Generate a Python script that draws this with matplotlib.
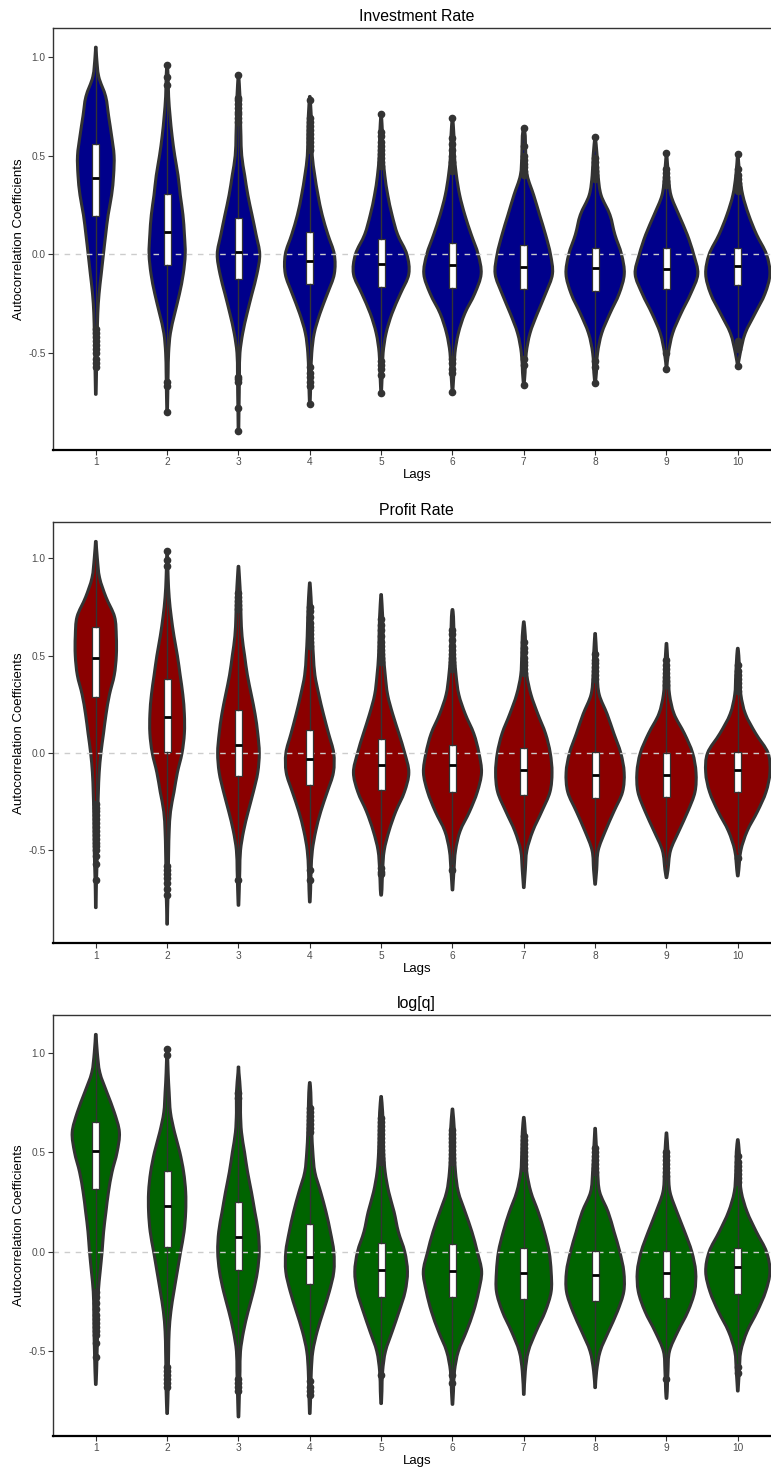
import numpy as np
import matplotlib
matplotlib.use("Agg")
import matplotlib.pyplot as plt
from matplotlib.path import Path
from matplotlib.patches import PathPatch

plt.rcParams['font.family'] = ['Liberation Sans', 'DejaVu Sans']
plt.rcParams['axes.unicode_minus'] = False

lags = [1, 2, 3, 4, 5, 6, 7, 8, 9, 10]
titles = ['Investment Rate', 'Profit Rate', 'log[q]']
fills = ['#00008B', '#8B0000', '#006400']

# levels where the violin half-widths (density) were read, top to bottom
GRID = [1.1, 1.0, 0.9, 0.8, 0.7, 0.6, 0.5, 0.4, 0.3, 0.2, 0.1,
        0.0, -0.1, -0.2, -0.3, -0.4, -0.5, -0.6, -0.7, -0.8, -0.9]

# ---- Investment Rate ----
inv_dens = [
    [0, 0.8, 3, 10, 13, 16, 18.5, 18, 16, 12.5, 10, 7.7, 5.5, 3.3, 2, 1.5, 1, 0.7, 0.5, 0, 0],
    [0, 0, 1, 1.5, 3, 5, 7.7, 11, 13.3, 16, 17.5, 18.3, 16.3, 12.5, 7.7, 3.3, 1.5, 1, 0.7, 0, 0],
    [0, 0, 0.5, 1.5, 2, 2.5, 3.3, 6.3, 9.5, 13.7, 17.8, 21.5, 18.7, 13.7, 8.7, 4.3, 1.5, 1, 0.8, 0.5, 0],
    [0, 0, 0, 0, 1.5, 2, 2.5, 5, 8.3, 12.5, 18.3, 24.8, 24.8, 17.8, 10.3, 4.5, 2, 1.2, 0.7, 0, 0],
    [0, 0, 0, 0, 0.5, 1.5, 2, 3.7, 6.7, 11, 16.7, 26, 28, 19.5, 11, 5, 2, 1.2, 0.3, 0, 0],
    [0, 0, 0, 0, 0, 1.5, 2, 4, 7.3, 12.5, 19, 26, 29, 22.5, 12.5, 6, 2.5, 1.5, 0, 0, 0],
    [0, 0, 0, 0, 0, 1.5, 2, 3.5, 10, 16, 22, 27, 29, 22, 13.7, 6.3, 2.5, 1.3, 0, 0, 0],
    [0, 0, 0, 0, 0, 0, 2, 3, 6, 15, 20, 26.7, 29.5, 24.3, 15, 6.7, 2.5, 1.3, 0, 0, 0],
    [0, 0, 0, 0, 0, 0, 1, 2, 4.5, 12.5, 21, 27.5, 31.7, 24.5, 14.7, 6.3, 2, 0, 0, 0, 0],
    [0, 0, 0, 0, 0, 0, 1, 2, 5, 11, 19, 29, 32.5, 27.5, 17.5, 7.5, 2.5, 0, 0, 0, 0],
]
inv_ymin = [-0.71, -0.80, -0.895, -0.76, -0.705, -0.70, -0.664, -0.654, -0.58, -0.566]
inv_ymax = [1.05, 0.96, 0.91, 0.80, 0.71, 0.693, 0.64, 0.595, 0.512, 0.507]
inv_q1 = [0.194, -0.054, -0.127, -0.152, -0.164, -0.169, -0.176, -0.188, -0.174, -0.155]
inv_med = [0.389, 0.113, 0.01, -0.034, -0.047, -0.054, -0.065, -0.072, -0.075, -0.06]
inv_q3 = [0.56, 0.304, 0.186, 0.115, 0.079, 0.059, 0.047, 0.032, 0.032, 0.03]
inv_whislo = [-0.36, -0.59, -0.60, -0.55, -0.53, -0.51, -0.51, -0.52, -0.48, -0.43]
inv_whishi = [1.05, 0.84, 0.655, 0.515, 0.44, 0.40, 0.38, 0.36, 0.34, 0.31]
inv_fliers = [
    [-0.38, -0.40, -0.42, -0.44, -0.46, -0.48, -0.50, -0.53, -0.55, -0.57],
    [0.86, 0.90, 0.96, -0.65, -0.67, -0.80],
    [0.67, 0.69, 0.71, 0.72, 0.74, 0.76, 0.78, 0.79, 0.91, -0.62, -0.63, -0.65, -0.78, -0.895],
    [0.53, 0.55, 0.57, 0.59, 0.61, 0.63, 0.65, 0.67, 0.69, 0.78, -0.57, -0.60, -0.62, -0.65, -0.67, -0.76],
    [0.45, 0.47, 0.49, 0.51, 0.53, 0.55, 0.57, 0.60, 0.62, 0.71, -0.54, -0.56, -0.58, -0.61, -0.705],
    [0.42, 0.45, 0.47, 0.50, 0.53, 0.56, 0.59, 0.69, -0.53, -0.55, -0.58, -0.60, -0.70],
    [0.40, 0.42, 0.44, 0.46, 0.48, 0.50, 0.55, 0.64, -0.53, -0.56, -0.664],
    [0.38, 0.40, 0.42, 0.44, 0.47, 0.49, 0.595, -0.54, -0.57, -0.654],
    [0.35, 0.37, 0.39, 0.41, 0.43, 0.512, -0.50, -0.58],
    [0.32, 0.34, 0.36, 0.38, 0.40, 0.43, 0.507, -0.44, -0.46, -0.48, -0.566],
]

# ---- Profit Rate ----
prof_dens = [
    [0, 1.5, 3.7, 10, 18.3, 20, 20, 18, 13.3, 10, 7.5, 5, 3.3, 2.5, 2, 1.8, 1.5, 1, 0.5, 0, 0],
    [0, 0.5, 1, 2, 4, 6.7, 10, 12.7, 15.3, 16.8, 16.8, 14.5, 10, 6.7, 3.3, 2, 1.5, 1.2, 1, 0.5, 0],
    [0, 0, 1, 2, 2.5, 3.5, 6, 8.7, 12.5, 16.2, 18.8, 20.3, 18.8, 14.5, 9.5, 5, 2, 1.3, 0.8, 0, 0],
    [0, 0, 0, 1.2, 2, 2.5, 3.5, 5, 8.8, 13.3, 18.3, 23.3, 23, 17, 10.7, 5.8, 2.5, 1.3, 0.8, 0, 0],
    [0, 0, 0, 0.5, 1.5, 2, 2.5, 4, 6.3, 11.3, 17.3, 23, 27, 22.7, 14.3, 7.7, 3, 1.5, 0.8, 0, 0],
    [0, 0, 0, 0, 1, 1.5, 2, 3.5, 6.2, 12.5, 20.8, 25.8, 28.3, 24.2, 16.7, 7.5, 3, 1.5, 0.5, 0, 0],
    [0, 0, 0, 0, 0, 1.5, 2, 3, 7, 13.7, 21.2, 25.8, 27.5, 25.5, 17.5, 8.8, 3, 1.5, 0, 0, 0],
    [0, 0, 0, 0, 0, 0.5, 1.5, 2, 4, 11.7, 18.3, 25, 28.3, 26.7, 18.3, 10, 3, 1.5, 0, 0, 0],
    [0, 0, 0, 0, 0, 0, 1, 2, 3, 7.5, 17.5, 25.5, 28.8, 27.8, 20.8, 12.2, 4, 1.5, 0, 0, 0],
    [0, 0, 0, 0, 0, 0, 1, 2, 3, 7.5, 17.5, 29.5, 31.3, 27.5, 19.2, 9.2, 3, 1, 0, 0, 0],
]
prof_ymin = [-0.794, -0.879, -0.782, -0.765, -0.73, -0.703, -0.691, -0.674, -0.64, -0.631]
prof_ymax = [1.087, 1.037, 0.959, 0.874, 0.814, 0.737, 0.674, 0.614, 0.563, 0.538]
prof_q1 = [0.29, 0.003, -0.119, -0.162, -0.188, -0.201, -0.218, -0.23, -0.227, -0.201]
prof_med = [0.49, 0.184, 0.043, -0.031, -0.06, -0.063, -0.089, -0.114, -0.111, -0.089]
prof_q3 = [0.648, 0.379, 0.222, 0.119, 0.073, 0.043, 0.026, 0.005, 0.0, 0.005]
prof_whislo = [-0.24, -0.56, -0.63, -0.58, -0.58, -0.57, -0.58, -0.58, -0.57, -0.51]
prof_whishi = [1.087, 0.94, 0.73, 0.54, 0.46, 0.41, 0.39, 0.36, 0.34, 0.31]
prof_fliers = [
    [-0.26, -0.28, -0.30, -0.32, -0.34, -0.36, -0.38, -0.40, -0.42, -0.44, -0.46, -0.48, -0.50, -0.53, -0.57, -0.65],
    [0.96, 0.99, 1.037, -0.58, -0.60, -0.62, -0.64, -0.67, -0.70, -0.73],
    [0.74, 0.76, 0.78, 0.80, 0.82, -0.65],
    [0.55, 0.57, 0.59, 0.61, 0.63, 0.65, 0.67, 0.70, 0.73, 0.75, -0.60, -0.65],
    [0.47, 0.49, 0.51, 0.53, 0.55, 0.57, 0.60, 0.63, 0.66, 0.69, -0.59, -0.61, -0.62],
    [0.43, 0.45, 0.47, 0.49, 0.51, 0.53, 0.55, 0.58, 0.61, 0.63, -0.60],
    [0.41, 0.43, 0.45, 0.47, 0.49, 0.52, 0.54, 0.57],
    [0.38, 0.40, 0.42, 0.44, 0.46, 0.48, 0.51],
    [0.35, 0.37, 0.39, 0.41, 0.43, 0.45, 0.48],
    [0.32, 0.34, 0.36, 0.38, 0.40, 0.42, 0.45, -0.54],
]

# ---- log[q] ----
logq_dens = [
    [0, 1.5, 4, 11, 18.3, 23.3, 21, 16, 12.5, 10, 7.7, 6.2, 4.3, 2.5, 2, 1.8, 1.3, 0.8, 0, 0, 0],
    [0, 0.5, 1, 2, 3.3, 7.3, 12.5, 16.3, 18.3, 18.3, 16.7, 13.3, 10, 6.7, 3.7, 2, 1.5, 1.2, 1, 0.5, 0],
    [0, 0, 0.5, 2, 2, 3, 6, 9, 12.8, 16.2, 19.5, 20.5, 18.7, 14.7, 9.5, 5, 2, 1.5, 1, 0.5, 0],
    [0, 0, 0, 1, 1.5, 2, 3, 5, 10.7, 16, 20.3, 23.7, 23.7, 19.3, 13.3, 7.3, 3, 1.5, 1, 0.5, 0],
    [0, 0, 0, 0, 1.5, 2, 2.5, 4, 7.5, 12.8, 17, 23.3, 26, 23.7, 17.7, 11, 4.3, 1.5, 0.8, 0, 0],
    [0, 0, 0, 0, 0.5, 2, 2, 3, 5.8, 12.5, 19.2, 24.5, 28.8, 25.8, 20.8, 13.8, 5.8, 2, 1, 0, 0],
    [0, 0, 0, 0, 0, 1.5, 2, 3, 7, 14.2, 20.3, 25, 27, 27, 21.2, 12.2, 4.5, 1.5, 0.8, 0, 0],
    [0, 0, 0, 0, 0, 0.5, 1.5, 2.5, 4.5, 12.8, 18.7, 24.3, 28.3, 28.3, 22, 13.3, 5, 1.5, 0, 0, 0],
    [0, 0, 0, 0, 0, 0, 1.5, 2, 3.5, 10.3, 18, 25, 28.8, 27.8, 21.2, 11.3, 3, 1.5, 0.8, 0, 0],
    [0, 0, 0, 0, 0, 0, 1.5, 2, 3.5, 9.2, 18.3, 28.3, 31.7, 27.5, 19.2, 9.2, 3, 1.5, 0, 0, 0],
]
logq_ymin = [-0.667, -0.813, -0.83, -0.813, -0.763, -0.767, -0.717, -0.683, -0.737, -0.70]
logq_ymax = [1.092, 1.02, 0.928, 0.85, 0.78, 0.717, 0.675, 0.62, 0.597, 0.563]
logq_q1 = [0.317, 0.023, -0.092, -0.162, -0.228, -0.228, -0.238, -0.247, -0.233, -0.212]
logq_med = [0.505, 0.228, 0.072, -0.028, -0.092, -0.097, -0.108, -0.117, -0.108, -0.075]
logq_q3 = [0.65, 0.405, 0.25, 0.137, 0.042, 0.037, 0.017, 0.003, 0.005, 0.017]
logq_whislo = [-0.18, -0.55, -0.60, -0.60, -0.60, -0.60, -0.62, -0.62, -0.59, -0.55]
logq_whishi = [1.092, 0.97, 0.76, 0.58, 0.44, 0.43, 0.40, 0.38, 0.36, 0.34]
logq_fliers = [
    [-0.20, -0.23, -0.26, -0.29, -0.32, -0.34, -0.36, -0.38, -0.40, -0.42, -0.46, -0.53],
    [0.99, 1.02, -0.58, -0.60, -0.62, -0.64, -0.66, -0.68],
    [0.77, 0.80, -0.64, -0.66, -0.68, -0.70],
    [0.60, 0.62, 0.64, 0.66, 0.68, 0.70, 0.72, -0.65, -0.68, -0.70, -0.72],
    [0.45, 0.47, 0.49, 0.51, 0.53, 0.55, 0.57, 0.59, 0.61, 0.63, 0.65, 0.67, -0.62],
    [0.45, 0.47, 0.49, 0.51, 0.53, 0.55, 0.57, 0.59, 0.61, -0.62, -0.66],
    [0.42, 0.44, 0.46, 0.48, 0.50, 0.52, 0.54, 0.56, 0.58],
    [0.40, 0.42, 0.44, 0.46, 0.48, 0.50, 0.52],
    [0.38, 0.40, 0.42, 0.44, 0.46, 0.48, 0.50, -0.64],
    [0.35, 0.37, 0.39, 0.41, 0.43, 0.45, 0.48, -0.58, -0.61],
]

panels = [
    (inv_dens, inv_ymin, inv_ymax, inv_q1, inv_med, inv_q3, inv_whislo, inv_whishi, inv_fliers),
    (prof_dens, prof_ymin, prof_ymax, prof_q1, prof_med, prof_q3, prof_whislo, prof_whishi, prof_fliers),
    (logq_dens, logq_ymin, logq_ymax, logq_q1, logq_med, logq_q3, logq_whislo, logq_whishi, logq_fliers),
]


def smooth_side(xs, ys):
    # Catmull-Rom curve through the outline points, as cubic bezier pieces
    P = np.column_stack([xs, ys])
    n = len(P)
    verts, codes = [], []
    for i in range(n - 1):
        p0 = P[i - 1] if i > 0 else P[i]
        p1, p2 = P[i], P[i + 1]
        p3 = P[i + 2] if i + 2 < n else P[i + 1]
        verts += [p1 + (p2 - p0) / 6, p2 - (p3 - p1) / 6, p2]
        codes += [Path.CURVE4] * 3
    return verts, codes


def violin_path(pos, half, ys):
    right = smooth_side(pos + half, ys)
    left = smooth_side((pos - half)[::-1], ys[::-1])
    verts = [(pos + half[0], ys[0])] + right[0] + [(pos - half[-1], ys[-1])] + left[0]
    codes = [Path.MOVETO] + right[1] + [Path.LINETO] + left[1]
    verts.append(verts[0])
    codes.append(Path.CLOSEPOLY)
    return Path(np.array(verts, dtype=float), codes)


W, H = 771, 1472
fig = plt.figure(figsize=(W / 100, H / 100), dpi=100)
fig.patch.set_facecolor('white')

# axes boxes in pixels: (top, bottom); x runs from 53 to past the right edge
ax_px = [(28, 450), (522.3, 943.3), (1015.3, 1436)]
x_left, x_right = 53, 780.6

for k, (top, bot) in enumerate(ax_px):
    dens, ymin, ymax, q1, med, q3, wlo, whi, fl = panels[k]
    ax = fig.add_axes([x_left / W, 1 - bot / H, (x_right - x_left) / W, (bot - top) / H])

    # violins, scale = area: widest violin of the panel is 0.9 lags wide
    peak = max(max(d) for d in dens)
    for i, pos in enumerate(lags):
        keep = [(g, v) for g, v in zip(GRID, dens[i]) if ymin[i] + 0.02 < g < ymax[i] - 0.02]
        ys = np.array([ymax[i]] + [g for g, _ in keep] + [ymin[i]])
        vals = np.array([0.3] + [v for _, v in keep] + [0.3])
        half = 0.45 * vals / peak
        patch = PathPatch(violin_path(pos, half, ys), facecolor=fills[k], edgecolor='#333333',
                          linewidth=2.2, joinstyle='round', zorder=2)
        ax.add_patch(patch)

    ax.axhline(0, color='#CCCCCC', lw=1.0, ls=(0, (4, 4)), zorder=2.5)

    bstats = []
    for i in range(len(lags)):
        bstats.append(dict(med=med[i], q1=q1[i], q3=q3[i], whislo=wlo[i], whishi=whi[i],
                           fliers=np.array(fl[i])))
    ax.bxp(bstats, positions=lags, widths=0.1, patch_artist=True, showcaps=False,
           manage_ticks=False, zorder=3,
           boxprops=dict(facecolor='white', edgecolor='#333333', linewidth=0.9),
           medianprops=dict(color='black', linewidth=2.0),
           whiskerprops=dict(color='#333333', linewidth=1.0),
           flierprops=dict(marker='o', markersize=4.5, markerfacecolor='#333333',
                           markeredgecolor='#333333', linestyle='none'))

    lo, hi = min(ymin), max(ymax)
    pad = 0.05 * (hi - lo)
    ax.set_ylim(lo - pad, hi + pad)
    ax.set_xlim(0.4, 10.6)
    ax.set_xticks(lags)
    ax.set_xticklabels([str(l) for l in lags])
    ax.set_yticks([-0.5, 0.0, 0.5, 1.0])
    ax.set_yticklabels(['-0.5', '0.0', '0.5', '1.0'])
    ax.tick_params(direction='out', length=3.3, width=0.8, color='#333333',
                   labelcolor='#4D4D4D', labelsize=7.3, pad=2)

    for side in ['top', 'left', 'right']:
        ax.spines[side].set_color('#333333')
        ax.spines[side].set_linewidth(1.0)
    ax.spines['bottom'].set_color('black')
    ax.spines['bottom'].set_linewidth(1.6)

    ax.set_title(titles[k], fontsize=11.4, color='black', pad=5)
    ax.set_xlabel('Lags', fontsize=9.5, color='black', labelpad=1.5)
    ax.set_ylabel('Autocorrelation Coefficients', fontsize=9.5, color='black', labelpad=2.5)

fig.savefig('out.png', dpi=100, facecolor='white')
